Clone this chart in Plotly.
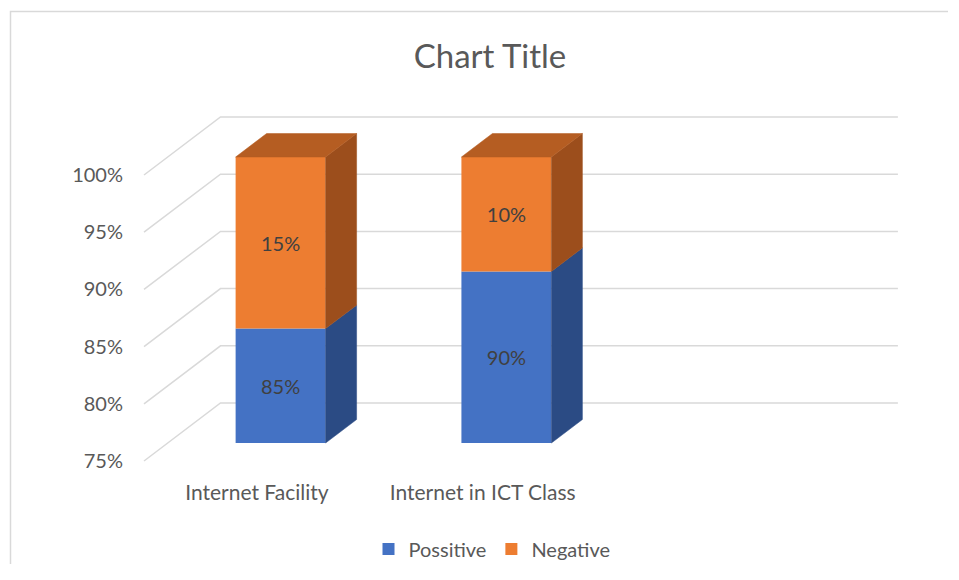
import plotly.graph_objects as go

# ---- data ----
categories = ["Internet Facility", "Internet in ICT Class", ""]
positive = [85, 90]
negative = [15, 10]
series_names = ["Possitive", "Negative"]
y_ticks = [75, 80, 85, 90, 95, 100]
y_tick_text = ["75%", "80%", "85%", "90%", "95%", "100%"]

# ---- style / geometry (target-pixel based oblique projection) ----
OFF = 8                                    # page body margin of the browser
W, H = 940, 556                            # leaves slack so no scrollbars appear
PL, PR, PT, PB = 130, 910, 100, 475        # plot area in target pixels
ML, MT = PL - OFF, PT - OFF
MR, MB = W - (PR - OFF), H - (PB - OFF)
PX_X0, PX_PER_CAT = 144.0, 225.8          # front-left of floor, px per category
PY_75, PX_PER_PCT = 461.0, 11.44          # px of 75% at front, px per percent
DX = 76.5 / PX_PER_CAT                     # depth offset in x units
DY = 58.0 / PX_PER_PCT                     # depth offset in y units
D0, D1 = 0.31, 0.715                       # bar depth span (fraction of wall depth)
BAR_W = 90 / PX_PER_CAT
BASE = y_ticks[0]

x_range = [(PL - PX_X0) / PX_PER_CAT, (PR - PX_X0) / PX_PER_CAT]
y_range = [BASE - (PB - PY_75) / PX_PER_PCT, BASE + (PY_75 - PT) / PX_PER_PCT]

FRONT = ["#4472C4", "#ED7D31"]
SIDE = ["#2B4B84", "#9C4E1C"]
TOP = ["#2F5597", "#B55D22"]
GRID = "#D9D9D9"
TXT = "#595959"
FONT = "Lato"

fig = go.Figure()

# gridlines (side wall + back wall) as shapes below the traces
n_cat = len(categories)
for v in y_ticks:
    fig.add_shape(type="path", xref="x", yref="y", layer="below",
                  path=f"M0,{v} L{DX},{v+DY} L{n_cat+DX},{v+DY}",
                  line=dict(color=GRID, width=1.5))

ddx = (D1 - D0) * DX
ddy = (D1 - D0) * DY
for s, vals in enumerate([positive, negative]):
    xs, bases, heights, texts = [], [], [], []
    for i in range(len(vals)):
        lo = BASE if s == 0 else positive[i]
        hi = positive[i] if s == 0 else positive[i] + negative[i]
        xs.append(i + 0.5 + D0 * DX)
        bases.append(lo + D0 * DY)
        heights.append(hi - lo)
        texts.append(f"{vals[i]}%")
    fig.add_trace(go.Bar(
        x=xs, y=heights, base=bases, width=BAR_W, name=series_names[s],
        marker=dict(color=FRONT[s], line=dict(width=0)),
        text=texts, textposition="inside", insidetextanchor="middle",
        textfont=dict(family=FONT, size=20, color="#404040"),
        hoverinfo="skip", showlegend=True,
    ))

for i in range(len(positive)):
    for s in range(2):
        lo = BASE if s == 0 else positive[i]
        hi = positive[i] if s == 0 else positive[i] + negative[i]
        xc = i + 0.5 + D0 * DX
        xl, xr = xc - BAR_W / 2, xc + BAR_W / 2
        b, t = lo + D0 * DY, hi + D0 * DY
        fig.add_trace(go.Scatter(
            x=[xr, xr + ddx, xr + ddx, xr, xr], y=[b, b + ddy, t + ddy, t, b],
            fill="toself", fillcolor=SIDE[s], mode="lines",
            line=dict(width=0.5, color=SIDE[s]), showlegend=False, hoverinfo="skip"))
        if s == 1:
            fig.add_trace(go.Scatter(
                x=[xl, xr, xr + ddx, xl + ddx, xl], y=[t, t, t + ddy, t + ddy, t],
                fill="toself", fillcolor=TOP[s], mode="lines",
                line=dict(width=0.5, color=TOP[s]), showlegend=False, hoverinfo="skip"))

def px2paper_x(px):
    return (px - PL) / (PR - PL)

def px2paper_y(py):
    return (PB - py) / (PB - PT)

# chart border (left and top edges; the rest lies outside the picture)
fig.add_shape(type="path", xref="paper", yref="paper", layer="below",
              path=(f"M{px2paper_x(10.5)},{px2paper_y(600)} "
                    f"L{px2paper_x(10.5)},{px2paper_y(11.5)} "
                    f"L{px2paper_x(980)},{px2paper_y(11.5)}"),
              line=dict(color=GRID, width=1.5))

fig.update_layout(
    width=W, height=H,
    margin=dict(l=ML, r=MR, t=MT, b=MB, pad=0, autoexpand=False),
    paper_bgcolor="white", plot_bgcolor="white",
    barmode="overlay",
    title=dict(text="Chart Title", x=(490 - OFF) / W, xanchor="center",
               y=1 - (56 - OFF) / H, yanchor="middle",
               font=dict(family=FONT, size=33, color=TXT)),
    xaxis=dict(range=x_range, showgrid=False, zeroline=False, showline=False,
               automargin=False,
               tickmode="array", tickvals=[i + 0.5 for i in range(n_cat)],
               ticktext=categories, ticks="", ticklabelstandoff=3,
               tickfont=dict(family=FONT, size=21, color=TXT), fixedrange=True),
    yaxis=dict(range=y_range, showgrid=False, zeroline=False, showline=False,
               automargin=False,
               tickmode="array", tickvals=y_ticks, ticktext=y_tick_text,
               ticks="", ticklabelstandoff=6,
               tickfont=dict(family=FONT, size=20, color=TXT), fixedrange=True),
    legend=dict(orientation="h", xref="container", yref="container",
                x=(492 - OFF) / W, xanchor="center",
                y=1 - (549 - OFF) / H, yanchor="middle",
                font=dict(family=FONT, size=20, color=TXT),
                itemclick=False, itemdoubleclick=False, traceorder="normal"),
    showlegend=True,
)

fig.write_html("out.html")
